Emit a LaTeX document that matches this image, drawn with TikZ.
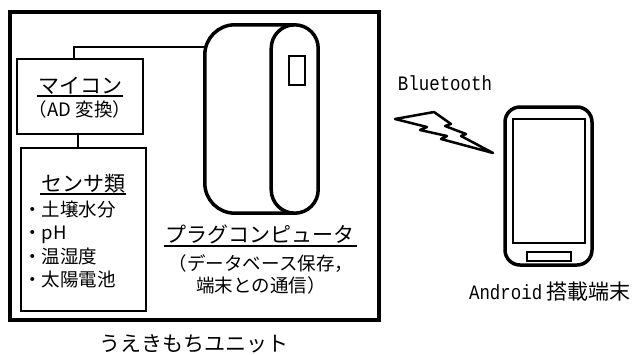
\documentclass[tikz,border=0pt]{standalone}
\usepackage{fontspec}
\setmainfont{Noto Sans CJK JP}
\newfontfamily\latinmono[FakeStretch=0.85]{Liberation Mono}
\begin{document}
\begin{tikzpicture}[x=1pt,y=-1pt,
  frame/.style={draw,line width=3.5pt},
  box/.style={draw,line width=2.5pt,inner sep=0pt},
  heavy/.style={line width=3.5pt,line join=round},
  wire/.style={line width=2pt},
  uline/.style={line width=2pt},
  title/.style={font=\fontsize{21}{24}\selectfont,inner sep=0pt,anchor=base},
  body/.style={font=\fontsize{18.5}{22}\selectfont,inner sep=0pt,anchor=base},
  item/.style={font=\fontsize{18.5}{22}\selectfont,inner sep=0pt,anchor=base west},
  mono/.style={font=\latinmono\fontsize{20.5}{24}\selectfont,inner sep=0pt,anchor=base}]
\useasboundingbox (0,0) rectangle (634,354);

% unit enclosure
\node[frame,inner sep=0pt,minimum width=369pt,minimum height=308pt] (unit) at (194.5,166) {};
\node[title] (unitlabel) at (194,351) {うえきもちユニット};

% microcontroller
\node[box,minimum width=126pt,minimum height=75pt] (mcu) at (80,96.5) {};
\node[title] (mcutitle) at (80,93) {マイコン};
\draw[uline] (37,96) -- (123,96);
\node[body] (mcusub) at (80,116) {（AD 変換）};

% sensors
\node[box,minimum width=125pt,minimum height=163pt] (sensor) at (83.5,229.5) {};
\node[title] (sensortitle) at (83,191) {センサ類};
\draw[uline] (40,194) -- (126,194);
\node[item] (s1) at (23,216) {・土壌水分};
\node[item] (s2) at (23,239.5) {・pH};
\node[item] (s3) at (23,263) {・温湿度};
\node[item] (s4) at (23,286) {・太陽電池};

% plug computer
\node[inner sep=0pt,minimum width=113pt,minimum height=188pt] (plug) at (261.5,119) {};
\draw[heavy,rounded corners=30pt] ([xshift=-24pt]plug.north east) -- (plug.north west)
  -- (plug.south west) -- ([xshift=-24pt]plug.south east);
\draw[heavy,rounded corners=23.5pt] ([xshift=-47pt]plug.north east) rectangle (plug.south east);
\node[box,minimum width=16pt,minimum height=29pt] (port) at (297,70.5) {};
\node[title] (plugtitle) at (260,242) {プラグコンピュータ};
\draw[uline] (164,246) -- (357,246);
\node[body] (plugsub1) at (261,270) {（データベース保存，};
\node[body] (plugsub2) at (261,292) {端末との通信）};

% wiring
\draw[wire] ([xshift=-6pt]mcu.north) |- (plug.west |- 0,47);
\draw[wire] (mcu.south -| 78,0) -- (sensor.north -| 78,0);

% radio link
\node[mono] (bt) at (445,90) {Bluetooth};
\draw[line width=2.5pt,line join=round]
  (395,119) -- (434,112) -- (451,124) -- (445,126) -- (466,134) -- (461,136) -- (493,153)
  -- (441,139) -- (447,136) -- (420,130) -- (427,127) -- cycle;

% handset
\node[draw,line width=3.5pt,rounded corners=15pt,inner sep=0pt,minimum width=87pt,minimum height=158pt] (phone) at (548.5,186) {};
\node[box,minimum width=72pt,minimum height=124pt] (screen) at (549,181) {};
\node[box,minimum width=44pt,minimum height=9pt] (homekey) at (549,256.5) {};
\node[title] (phonelabel) at (550,299) {{\latinmono\fontsize{20.5}{24}\selectfont Android} 搭載端末};
\end{tikzpicture}
\end{document}
